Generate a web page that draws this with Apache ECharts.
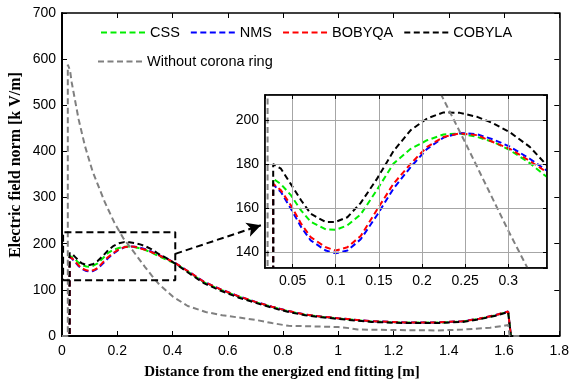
<!DOCTYPE html>
<html>
<head>
<meta charset="utf-8">
<script src="https://cdn.jsdelivr.net/npm/echarts@6/dist/echarts.min.js"></script>
<style>
  html, body { margin: 0; padding: 0; background: #fff; }
  #chart { width: 572px; height: 382px; }
</style>
</head>
<body>
<div id="chart"></div>
<script>
// Distance along the insulator [m] for the optimised ring profiles
const distance = [0, 0.0275, 0.0275, 0.0365, 0.048, 0.06, 0.071, 0.0885, 0.1, 0.1135,
  0.129, 0.148, 0.167, 0.187, 0.206, 0.225, 0.244, 0.264, 0.283, 0.302,
  0.325, 0.345, 0.38, 0.41, 0.46, 0.515, 0.575, 0.64, 0.7, 0.76,
  0.82, 0.88, 0.94, 1.0, 1.12, 1.24, 1.36, 1.45, 1.51, 1.57,
  1.615, 1.625];

// Electric field norm [kV/m] for each optimiser
const fieldCSS = [0, 0, 173.5, 171, 166, 159, 154, 150.5, 150.3, 152.3,
  157.3, 168.5, 180.3, 187, 190.9, 193.5, 194, 192.4, 190.1, 186.4,
  180.5, 174.2, 165, 157, 138, 116, 100, 85, 73.5, 63,
  53.5, 46, 41.5, 38, 31.5, 29, 29, 31.5, 37, 45,
  52.5, 0];
const fieldNMS = [0, 0, 170.8, 167.4, 159.9, 151.5, 145.5, 140.9, 139.7, 140.9,
  146, 157, 169, 178.8, 187, 192.1, 194.2, 193.6, 191.2, 188,
  182.5, 177.1, 167.5, 158, 139, 117, 101, 86, 74, 63.5,
  54, 46.5, 42, 38.5, 32, 29.5, 29.5, 32, 37.5, 45.5,
  53, 0];
const fieldBOBYQA = [0, 0, 171.2, 168.2, 161.4, 153, 147, 142.4, 140.9, 142.4,
  147.5, 159.5, 171.2, 180.3, 187.9, 192.4, 194, 193.2, 190, 187,
  181.5, 176.4, 167, 158, 139, 117, 101, 86, 74, 63.5,
  54, 46.5, 42, 38.5, 32, 29.5, 29.5, 32, 37.5, 45.5,
  53, 0];
const fieldCOBYLA = [0, 0, 180.1, 178, 171, 163.6, 157.6, 153.8, 153.9, 156,
  162.5, 173.5, 186, 195.5, 200.8, 203.5, 203.3, 201.5, 198.5, 194.5,
  187.9, 179.5, 168, 157, 136, 114, 98, 83, 72, 61.5,
  52, 45, 40.5, 37, 30.5, 28, 28, 30.5, 36, 44,
  52, 0];

// Reference case without the corona ring
const distanceNoRing = [0, 0.021, 0.021, 0.029, 0.035, 0.06, 0.083, 0.11, 0.125, 0.155,
  0.19, 0.223, 0.25, 0.275, 0.3, 0.325, 0.35, 0.4, 0.455, 0.52,
  0.58, 0.64, 0.7, 0.76, 0.82, 0.9, 1.0, 1.04, 1.07, 1.2,
  1.36, 1.45, 1.55, 1.6, 1.615, 1.62, 1.66];
const fieldNoRing = [0, 0, 588, 576, 550, 470, 412, 358, 335, 290,
  245, 211, 190, 170, 150, 131, 113, 86, 65, 52,
  45, 40, 35, 28, 22, 21, 19.5, 17, 14, 13,
  12, 14, 18, 22, 24, 0, 0];

// Zoomed window marked on the main axes, and the pointer towards the inset
const zoomBoxX = [0.004, 0.41, 0.41, 0.004, 0.004];
const zoomBoxY = [121, 121, 225, 225, 121];
const pointerFrom = [0.41, 178];
const pointerTo = [0.72, 240];

const xTicks = { min: 0, max: 1.8, interval: 0.2 };
const yTicks = { min: 0, max: 700, interval: 100 };
const insetX = { min: 0.018, max: 0.345 };
const insetY = { min: 133, max: 211.4 };

const profiles = [
  { name: 'CSS', color: '#00ee00', values: fieldCSS, x: distance },
  { name: 'NMS', color: '#0000ff', values: fieldNMS, x: distance },
  { name: 'BOBYQA', color: '#ff0000', values: fieldBOBYQA, x: distance },
  { name: 'COBYLA', color: '#000000', values: fieldCOBYLA, x: distance },
  { name: 'Without corona ring', color: '#808080', values: fieldNoRing, x: distanceNoRing }
];

const SANS = '"Liberation Sans", Arial, sans-serif';
const SERIF = '"Liberation Serif", "Times New Roman", serif';
const DASH = [6, 3.5];

function pairs(xs, ys) { return xs.map((x, i) => [x, ys[i]]); }

function frameAxis(base, extra) {
  return Object.assign({
    type: 'value',
    axisLine: { show: true, onZero: false, lineStyle: { color: '#000', width: 1.5 } },
    axisTick: { show: true, inside: true, length: 5, lineStyle: { color: '#000', width: 1 } },
    axisLabel: { show: false },
    splitLine: { show: false }
  }, base, extra);
}

const labelStyle = { fontSize: 14, color: '#000', fontFamily: SANS };

const series = [];
profiles.forEach(p => {
  const common = {
    type: 'line',
    name: p.name,
    data: pairs(p.x, p.values),
    showSymbol: false,
    symbol: 'none',
    clip: true,
    silent: true,
    itemStyle: { color: p.color },
    lineStyle: { color: p.color, width: 2, type: DASH }
  };
  series.push(Object.assign({}, common, { xAxisIndex: 0, yAxisIndex: 0 }));
  series.push(Object.assign({}, common, { xAxisIndex: 2, yAxisIndex: 2 }));
});

series.push({
  type: 'line',
  name: 'zoom window',
  xAxisIndex: 0, yAxisIndex: 0,
  data: pairs(zoomBoxX, zoomBoxY),
  showSymbol: false, symbol: 'none', silent: true,
  lineStyle: { color: '#000', width: 2, type: [7, 4] },
  markLine: {
    silent: true,
    symbol: ['none', 'arrow'],
    symbolSize: [11, 14],
    label: { show: false },
    lineStyle: { color: '#000', width: 2, type: [7, 4] },
    data: [[{ coord: pointerFrom }, { coord: pointerTo }]]
  }
});

const legendCommon = {
  orient: 'horizontal',
  itemWidth: 44,
  itemHeight: 14,
  itemGap: 10,
  padding: 0,
  selectedMode: false,
  itemStyle: { opacity: 0, borderWidth: 0 },
  textStyle: { fontSize: 14.5, color: '#000', fontFamily: SANS }
};

const option = {
  animation: false,
  backgroundColor: '#fff',
  grid: [
    { left: 62, top: 13, right: 11, bottom: 46 },
    { left: 265, top: 95, width: 282, height: 173, show: true,
      backgroundColor: '#fff', borderColor: '#000', borderWidth: 1.5, z: 3 }
  ],
  legend: [
    Object.assign({}, legendCommon, { data: ['CSS', 'NMS', 'BOBYQA', 'COBYLA'], left: 100, top: 25 }),
    Object.assign({}, legendCommon, { data: ['Without corona ring'], left: 97, top: 54 })
  ],
  xAxis: [
    frameAxis(xTicks, { gridIndex: 0, position: 'bottom',
      axisLine: { show: true, onZero: false, lineStyle: { color: '#000', width: 2 } },
      axisLabel: Object.assign({ show: true, margin: 8 }, labelStyle) }),
    frameAxis(xTicks, { gridIndex: 0, position: 'top' }),
    frameAxis(insetX, { gridIndex: 1, position: 'bottom', z: 4,
      axisTick: { show: true, inside: true, length: 4, lineStyle: { color: '#000' } },
      axisLabel: Object.assign({ show: true, margin: 6, showMinLabel: false, showMaxLabel: false }, labelStyle),
      splitLine: { show: true, lineStyle: { color: '#a6a6a6', width: 1 } } }),
    frameAxis(insetX, { gridIndex: 1, position: 'top', z: 4,
      axisTick: { show: true, inside: true, length: 4, lineStyle: { color: '#000' } } })
  ],
  yAxis: [
    frameAxis(yTicks, { gridIndex: 0, position: 'left',
      axisLine: { show: true, onZero: false, lineStyle: { color: '#000', width: 2 } },
      axisLabel: Object.assign({ show: true, margin: 6 }, labelStyle) }),
    frameAxis(yTicks, { gridIndex: 0, position: 'right' }),
    frameAxis(insetY, { gridIndex: 1, position: 'left', z: 4,
      axisTick: { show: true, inside: true, length: 4, lineStyle: { color: '#000' } },
      axisLabel: Object.assign({ show: true, margin: 6, showMinLabel: false, showMaxLabel: false }, labelStyle),
      splitLine: { show: true, lineStyle: { color: '#a6a6a6', width: 1 } } }),
    frameAxis(insetY, { gridIndex: 1, position: 'right', z: 4,
      axisTick: { show: true, inside: true, length: 4, lineStyle: { color: '#000' } } })
  ],
  graphic: [
    { type: 'text', x: 282, y: 372, silent: true,
      style: { text: 'Distance from the energized end fitting [m]', font: 'bold 15px ' + SERIF,
        fill: '#000', align: 'center', verticalAlign: 'middle' } },
    { type: 'text', x: 16, y: 165, rotation: Math.PI / 2, silent: true,
      style: { text: 'Electric field norm [k V/m]', font: 'bold 16px ' + SERIF,
        fill: '#000', align: 'center', verticalAlign: 'middle' } }
  ],
  series: series
};

const chart = echarts.init(document.getElementById('chart'), null, { renderer: 'canvas' });
chart.setOption(option);
</script>
</body>
</html>
